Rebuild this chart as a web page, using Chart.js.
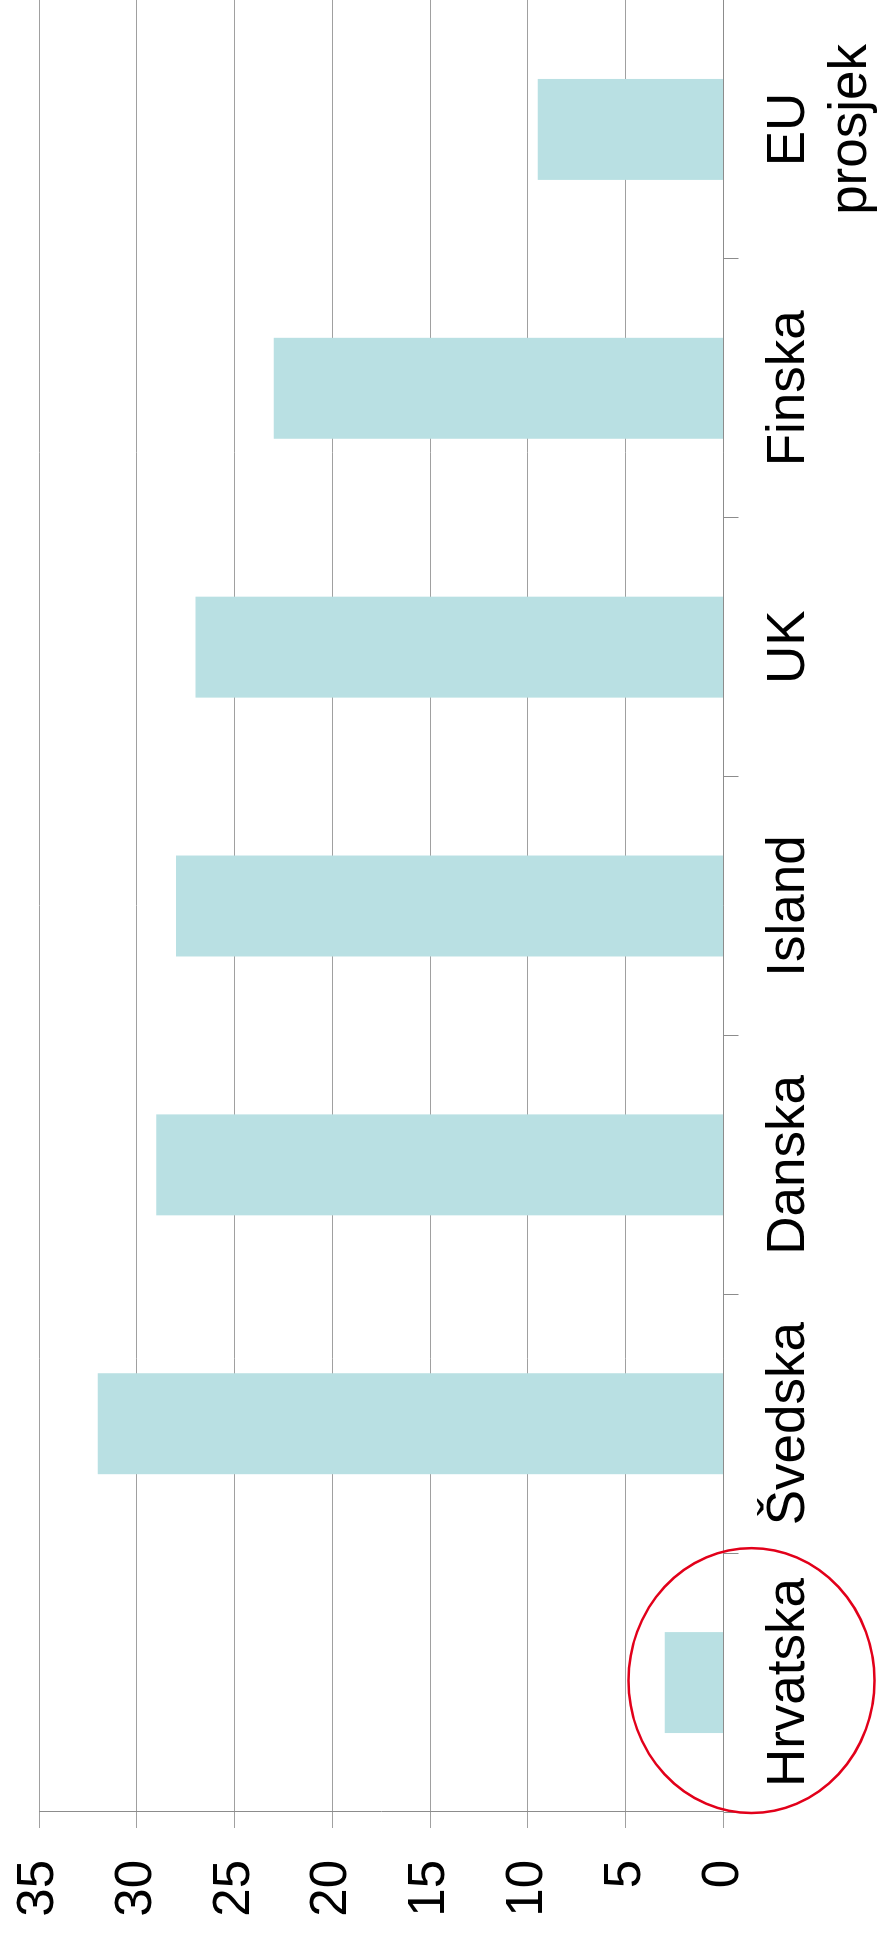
<!DOCTYPE html>
<html>
<head>
<meta charset="utf-8">
<script src="https://cdn.jsdelivr.net/npm/chart.js@4/dist/chart.umd.min.js"></script>
<style>
  html, body { margin: 0; padding: 0; background: #fff; overflow: hidden; }
  #wrap {
    position: absolute; left: 0; top: 0;
    width: 1935px; height: 878px;
    transform-origin: top left;
    transform: translateY(1935px) rotate(-90deg);
  }
</style>
</head>
<body>
<div id="wrap"><canvas id="stupci" width="1935" height="878"></canvas></div>
<script>
var zemlje = ['Hrvatska', 'Švedska', 'Danska', 'Island', 'UK', 'Finska', ['EU', 'prosjek']];
var vrijednosti = [3, 32, 29, 28, 27, 23, 9.5];
var oznakeOsi = [0, 5, 10, 15, 20, 25, 30, 35];

var pismo = 'Liberation Sans, Arial, Helvetica, sans-serif';

// crveni krug oko Hrvatske
var krug = {
  id: 'krug',
  afterDraw: function (chart) {
    var c = chart.ctx, x = chart.scales.x, y = chart.scales.y;
    var cx = x.getPixelForValue(0);
    var pola = (x.getPixelForValue(1) - cx) / 2;
    var cy = y.getPixelForValue(0) + 28;
    c.save();
    c.beginPath();
    c.ellipse(cx + 2, cy, pola + 3, 123, 0, 0, Math.PI * 2);
    c.strokeStyle = '#e2001a';
    c.lineWidth = 2.5;
    c.stroke();
    c.restore();
  }
};

var ctx = document.getElementById('stupci');
var graf = new Chart(ctx, {
  type: 'bar',
  data: {
    labels: zemlje,
    datasets: [{
      data: vrijednosti,
      backgroundColor: '#b9e0e3',
      borderWidth: 0,
      categoryPercentage: 1,
      barPercentage: 0.39
    }]
  },
  options: {
    responsive: false,
    animation: false,
    devicePixelRatio: 1,
    layout: { padding: { top: 39, left: 0, right: 0, bottom: 0 } },
    plugins: { legend: { display: false }, tooltip: { enabled: false } },
    scales: {
      x: {
        grid: { offset: true, drawOnChartArea: false, drawTicks: true, tickLength: 15, color: '#8c8c8c', lineWidth: 1 },
        border: { display: true, color: '#8c8c8c', width: 1 },
        ticks: { color: '#000', font: { size: 53, family: pismo, lineHeight: 1.17 }, padding: 20, maxRotation: 0, minRotation: 0, autoSkip: false },
        afterFit: function (s) {
          s.height = 154.5;
          s.paddingLeft = 0;
          s.paddingRight = 0;
        }
      },
      y: {
        min: oznakeOsi[0],
        max: oznakeOsi[oznakeOsi.length - 1],
        grid: { color: '#a0a0a0', lineWidth: 1, tickLength: 16 },
        border: { display: true, color: '#8c8c8c', width: 1 },
        ticks: { stepSize: oznakeOsi[1] - oznakeOsi[0], color: '#000', font: { size: 51, family: pismo }, padding: 32 },
        afterFit: function (s) {
          s.width = 123;
          s.paddingTop = 0;
          s.paddingBottom = 0;
        }
      }
    }
  },
  plugins: [krug]
});
</script>
</body>
</html>
